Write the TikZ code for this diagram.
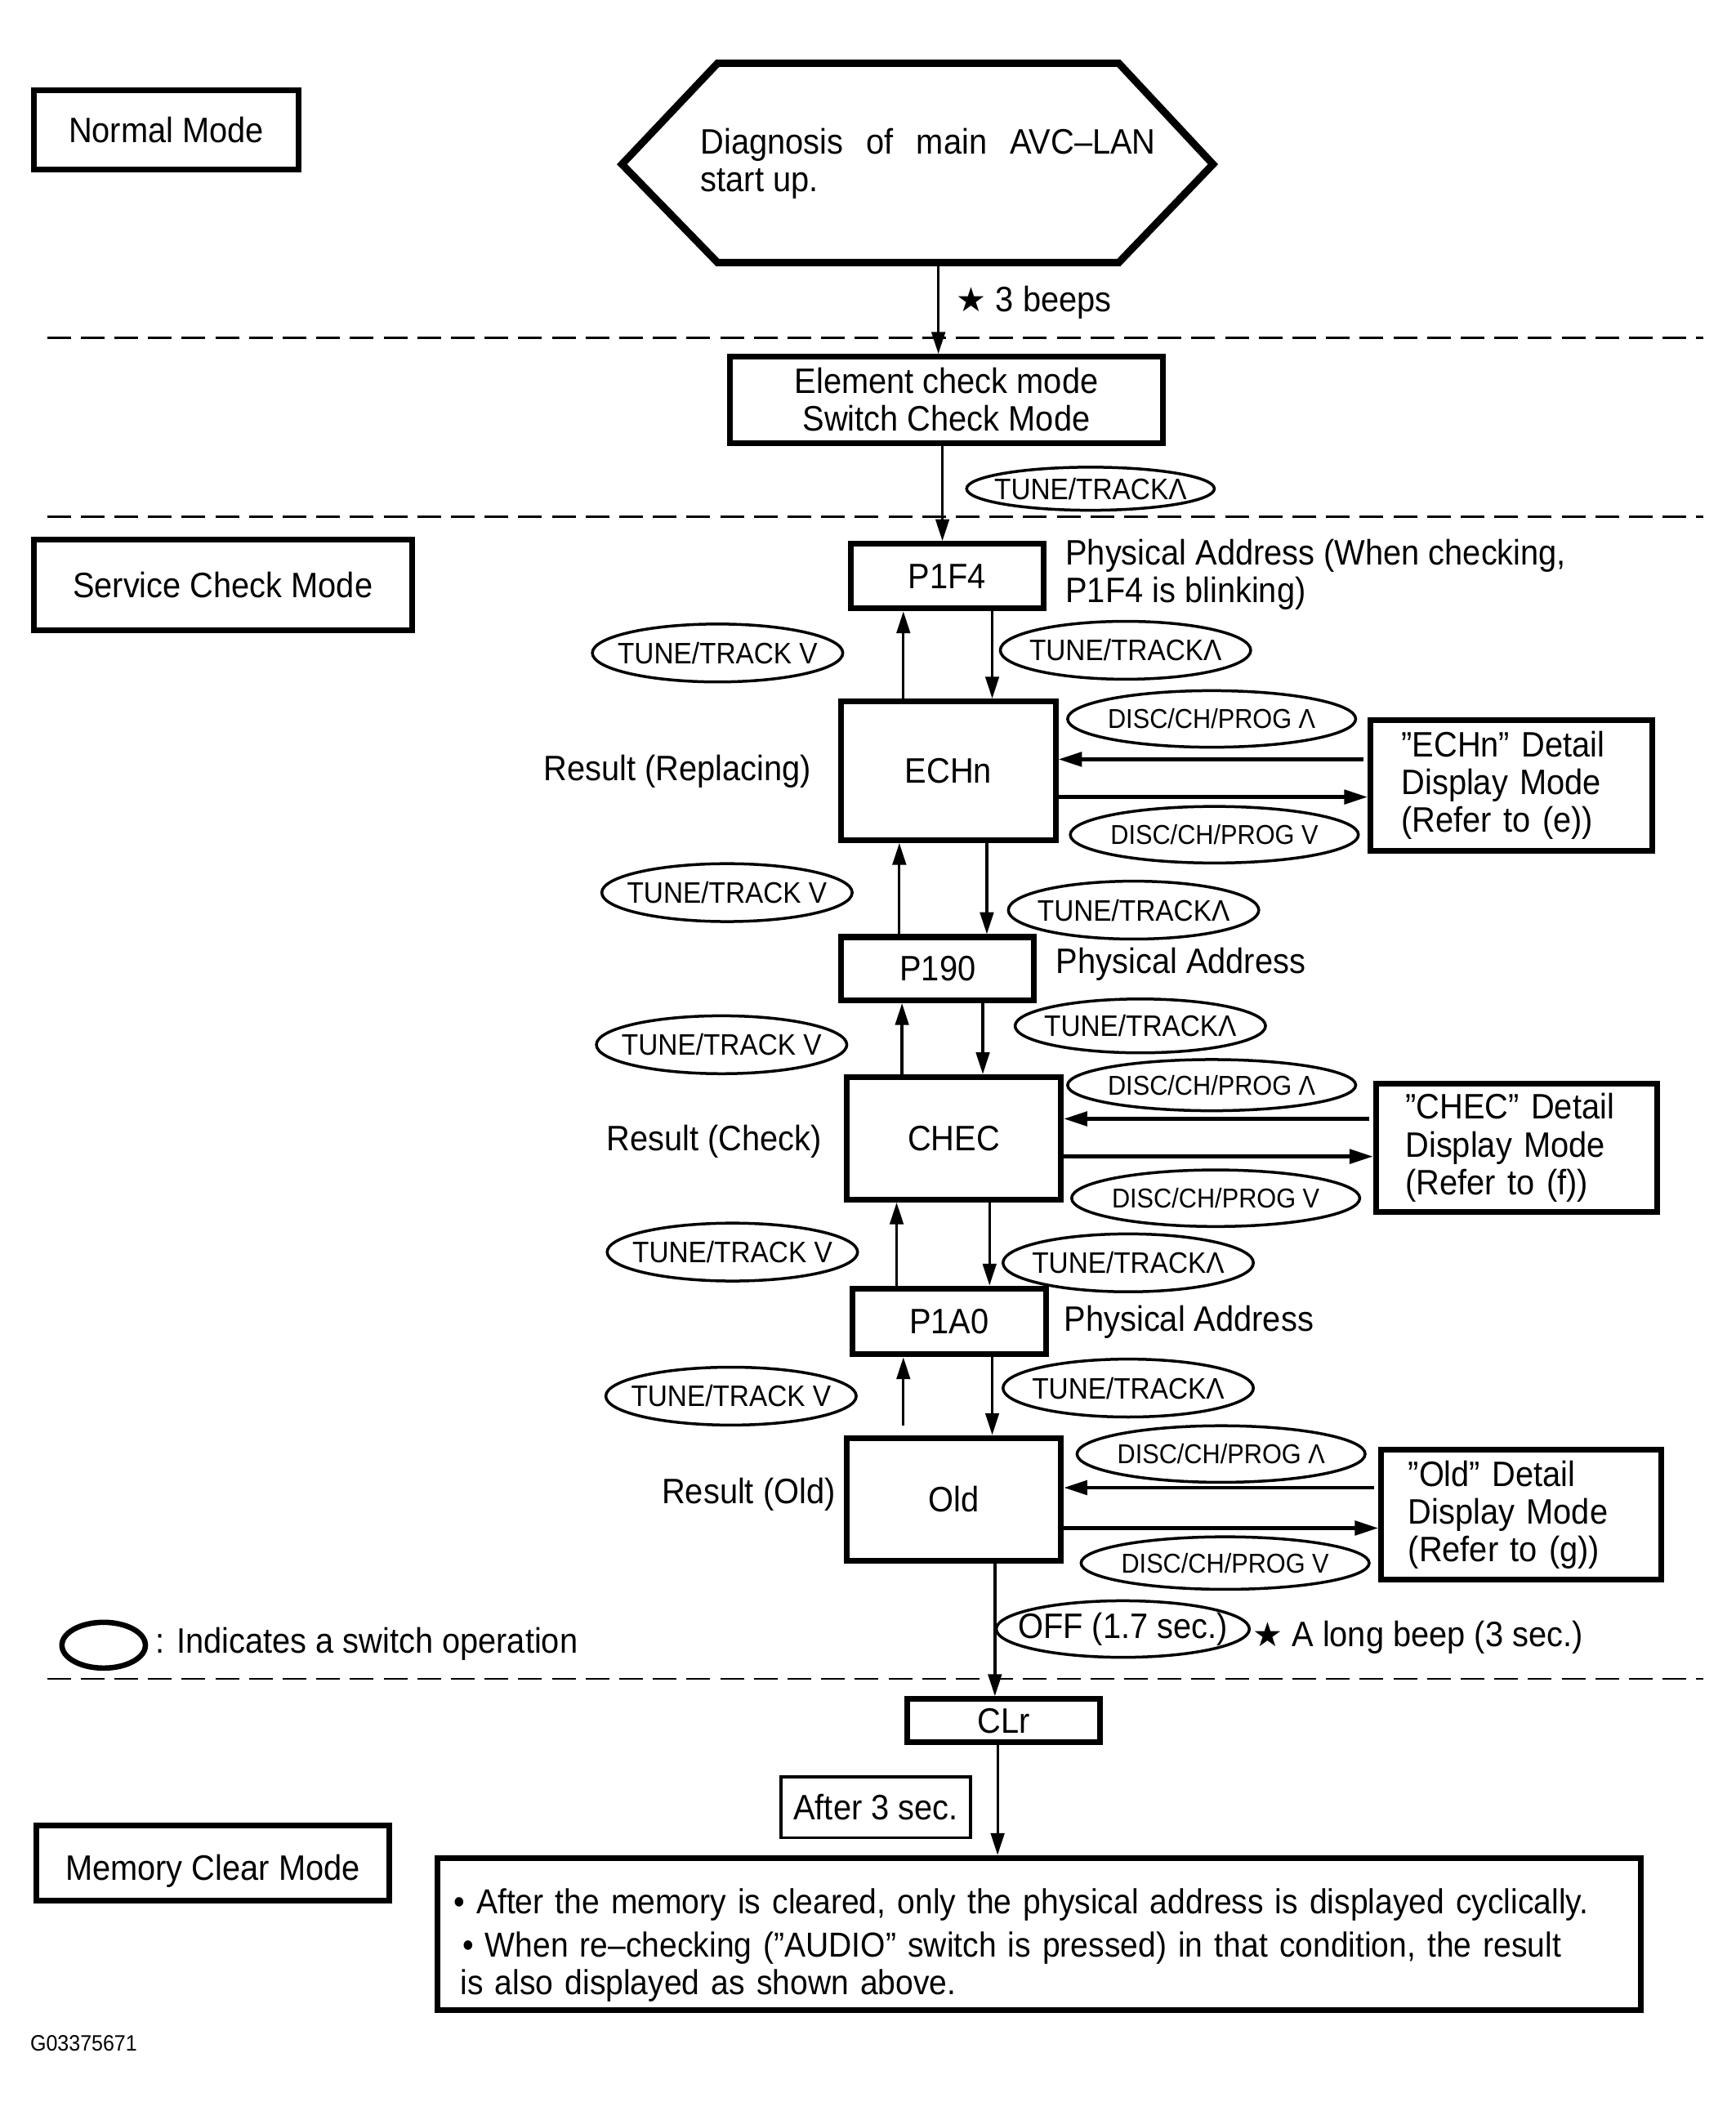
\documentclass[tikz,border=0pt]{standalone}
\usepackage{fontspec}
\setmainfont{Liberation Sans}[FakeStretch=0.92]
\newfontfamily\symfont{DejaVu Sans}
\usetikzlibrary{shapes.geometric,arrows.meta}
\newcommand\fsmain{\fontsize{10.5}{11.2}\selectfont}
\newcommand\fsmemo{\fontsize{10.3}{11.2}\selectfont}
\newcommand\fstt{\fontsize{8.8}{10}\selectfont}
\newcommand\fsdc{\fontsize{8.1}{10}\selectfont}
\newcommand\fstiny{\fontsize{6.6}{8}\selectfont}
\newcommand\starsym{{\symfont\fontsize{10}{10}\selectfont ★}}
\begin{document}
\begin{tikzpicture}[x=0.4pt,y=-0.4pt,
  mbox/.style={draw, line width=1.7pt, inner sep=0pt, font=\fsmain},
  tbox/.style={draw, line width=0.9pt, inner sep=0pt, font=\fsmain},
  ovl/.style={draw, ellipse, line width=0.85pt, inner ysep=0pt, inner xsep=-6pt},
  ovtt/.style={ovl, minimum width=74.4pt, minimum height=17.2pt, font=\fstt},
  ovdc/.style={ovl, minimum width=85.6pt, minimum height=16.8pt, font=\fsdc},
  lbl/.style={inner sep=0pt, font=\fsmain},
  varr/.style={line width=0.8pt, -{Triangle[length=6.5pt,width=4pt]}},
  harr/.style={line width=1.1pt, -{Triangle[length=7pt,width=4.2pt]}},
  sepline/.style={line width=0.65pt, dash pattern=on 7pt off 3pt},
  dbox/.style={mbox, align=left, inner ysep=0pt}
]
\useasboundingbox (0,0) rectangle (1289,1568);

% separators
\coordinate (s1l) at (35,251);  \coordinate (s1r) at (1265,251);
\coordinate (s2l) at (35,384);  \coordinate (s2r) at (1265,384);
\coordinate (s3l) at (35,1247); \coordinate (s3r) at (1265,1247);
\draw[sepline] (s1l) -- (s1r);
\draw[sepline] (s2l) -- (s2r);
\draw[sepline] (s3l) -- (s3r);

% mode labels
\node[mbox, minimum width=78.8pt, minimum height=23.6pt] (normal) at (123.5,96.5) {Normal Mode};
\node[mbox, minimum width=112.4pt, minimum height=26.8pt] (service) at (165.5,434.5) {Service Check Mode};
\node[mbox, minimum width=104.8pt, minimum height=22.4pt, text height=12.4pt] (memclr) at (158,1384) {Memory Clear Mode};

% start hexagon
\draw[line width=2.2pt, line join=miter] (462,122) -- (533,47) -- (831,47) -- (901,122) -- (831,195) -- (533,195) -- cycle;
\node[lbl, anchor=north west, align=left] (hex) at (520,95) {\makebox[135.2pt][s]{Diagnosis of main AVC–LAN}\\start up.};
\coordinate (hexS) at (697,195);

% element check
\node[mbox, minimum width=128.8pt, minimum height=25.6pt, align=center] (elem) at (703,297) {Element check mode\\Switch Check Mode};
\draw[varr] (hexS) -- (elem.north -| hexS);
\node[lbl, anchor=west] (beeps) at (710,225) {\starsym\ 3 beeps};

% main column boxes
\node[mbox, minimum width=57.2pt, minimum height=19.2pt] (p1f4) at (703.5,428) {P1F4};
\node[mbox, minimum width=63.6pt, minimum height=41.2pt] (echn) at (704.5,572.5) {ECHn};
\node[mbox, minimum width=57.2pt, minimum height=18.8pt] (p190) at (696.5,719.5) {P190};
\node[mbox, minimum width=63.6pt, minimum height=36.4pt] (chec) at (708.5,845.5) {CHEC};
\node[mbox, minimum width=57.6pt, minimum height=19.6pt] (p1a0) at (705,981.5) {P1A0};
\node[mbox, minimum width=63.6pt, minimum height=36.4pt] (old) at (708.5,1113.5) {Old};
\node[mbox, minimum width=57.2pt, minimum height=12.8pt] (clr) at (745.5,1278) {CLr};
\node[tbox, minimum width=56.4pt, minimum height=18pt] (after) at (650.5,1342.5) {After 3 sec.};
\node[mbox, font=\fsmemo, minimum width=357.6pt, minimum height=45.2pt, text width=348pt, inner xsep=4.8pt, align=left] (memo) at (772,1436.5)
 {\rule{0pt}{14pt}• After the memory is cleared, only the physical address is displayed cyclically.\\[1.6pt]
  \hspace*{2.6pt}• When re–checking (”AUDIO” switch is pressed) in that condition, the result\\
  \hspace*{2pt}is also displayed as shown above.};

% detail boxes
\node[dbox, minimum width=83.6pt, minimum height=38.8pt, text width=65.2pt, inner xsep=9.2pt] (echnd) at (1122.5,583.5) {”ECHn” Detail\\Display Mode\\(Refer to (e))};
\node[dbox, minimum width=83.6pt, minimum height=38pt, text width=66pt, inner xsep=8.8pt] (checd) at (1126.5,852.5) {”CHEC” Detail\\Display Mode\\(Refer to (f))};
\node[dbox, minimum width=83.2pt, minimum height=38.4pt, text width=67.2pt, inner xsep=8pt] (oldd) at (1130,1125) {”Old” Detail\\Display Mode\\(Refer to (g))};

% side labels
\node[lbl, anchor=north west, align=left] (pa1) at (791,400) {Physical Address (When checking,\\P1F4 is blinking)};
\node[lbl, anchor=west] (pa2) at (784,716) {Physical Address};
\node[lbl, anchor=west] (pa3) at (790,982) {Physical Address};
\node[lbl, anchor=east] (r1) at (603,573) {Result (Replacing)};
\node[lbl, anchor=east] (r2) at (611,848) {Result (Check)};
\node[lbl, anchor=east] (r3) at (621,1110) {Result (Old)};

% column coordinates
\coordinate (c700) at (700,0);
\coordinate (u1) at (671,0); \coordinate (d1) at (737,0);
\coordinate (u2) at (668,0); \coordinate (d2) at (733,0);
\coordinate (u3) at (670,0); \coordinate (d3) at (730,0);
\coordinate (u4) at (666,0); \coordinate (d4) at (735,0);
\coordinate (u5) at (671,0); \coordinate (d5) at (737,0);
\coordinate (c739) at (739,0); \coordinate (c741) at (741,0);

% vertical connectors
\draw[varr] (elem.south -| c700) -- (p1f4.north -| c700);
\draw[varr] (echn.north -| u1) -- (p1f4.south -| u1);
\draw[varr] (p1f4.south -| d1) -- (echn.north -| d1);
\draw[varr] (p190.north -| u2) -- (echn.south -| u2);
\draw[varr] (echn.south -| d2) -- (p190.north -| d2);
\draw[varr] (chec.north -| u3) -- (p190.south -| u3);
\draw[varr] (p190.south -| d3) -- (chec.north -| d3);
\draw[varr] (p1a0.north -| u4) -- (chec.south -| u4);
\draw[varr] (chec.south -| d4) -- (p1a0.north -| d4);
\draw[varr, shorten <=2.8pt] (old.north -| u5) -- (p1a0.south -| u5);
\draw[varr] (p1a0.south -| d5) -- (old.north -| d5);
\draw[varr] (old.south -| c739) -- (clr.north -| c739);
\draw[varr] (clr.south -| c741) -- (memo.north -| c741);

% horizontal connectors
\coordinate (h1a) at (0,564);  \coordinate (h1b) at (0,592);
\coordinate (h2a) at (0,831);  \coordinate (h2b) at (0,859);
\coordinate (h3a) at (0,1105); \coordinate (h3b) at (0,1135);
\draw[harr, shorten <=1.2pt] (echnd.west |- h1a) -- (echn.east |- h1a);
\draw[harr] (echn.east |- h1b) -- (echnd.west |- h1b);
\draw[harr, shorten <=1.2pt] (checd.west |- h2a) -- (chec.east |- h2a);
\draw[harr] (chec.east |- h2b) -- (checd.west |- h2b);
\draw[harr, shorten <=1.2pt] (oldd.west |- h3a) -- (old.east |- h3a);
\draw[harr] (old.east |- h3b) -- (oldd.west |- h3b);

% switch ovals
\node[ovtt, minimum width=73.6pt, minimum height=12.8pt] (o1) at (810,363) {TUNE/TRACKΛ};
\node[ovtt] (o2) at (533,485) {TUNE/TRACK V};
\node[ovtt] (o3) at (836,483) {TUNE/TRACKΛ};
\node[ovdc] (o4) at (900,534) {DISC/CH/PROG Λ};
\node[ovdc] (o5) at (902,620) {DISC/CH/PROG V};
\node[ovtt] (o6) at (540,663) {TUNE/TRACK V};
\node[ovtt] (o7) at (842,676) {TUNE/TRACKΛ};
\node[ovtt] (o8) at (536,776) {TUNE/TRACK V};
\node[ovtt, minimum height=16pt] (o9) at (847,762) {TUNE/TRACKΛ};
\node[ovdc, minimum height=15.2pt] (o10) at (900,806) {DISC/CH/PROG Λ};
\node[ovdc] (o11) at (903,890) {DISC/CH/PROG V};
\node[ovtt] (o12) at (544,930) {TUNE/TRACK V};
\node[ovtt] (o13) at (838,938) {TUNE/TRACKΛ};
\node[ovtt] (o14) at (543,1037) {TUNE/TRACK V};
\node[ovtt] (o15) at (838,1031) {TUNE/TRACKΛ};
\node[ovdc] (o16) at (907,1080) {DISC/CH/PROG Λ};
\node[ovdc, minimum height=15.6pt] (o17) at (910,1161) {DISC/CH/PROG V};
\node[ovl, inner xsep=-7pt, minimum width=75.2pt, minimum height=16.8pt, font=\fsmain] (off) at (834,1210) {OFF (1.7 sec.)};
\node[lbl, anchor=west] (beep2) at (930,1216) {\starsym\ A long beep (3 sec.)};

% legend
\node[draw, ellipse, line width=1.6pt, minimum width=24.8pt, minimum height=13.6pt, inner sep=0pt] (legend) at (77,1222) {};
\node[lbl, anchor=west] (legtxt) at (115,1221) {: Indicates a switch operation};

\node[inner sep=0pt, anchor=west, font=\fstiny] (code) at (22,1518) {G03375671};
\end{tikzpicture}
\end{document}
